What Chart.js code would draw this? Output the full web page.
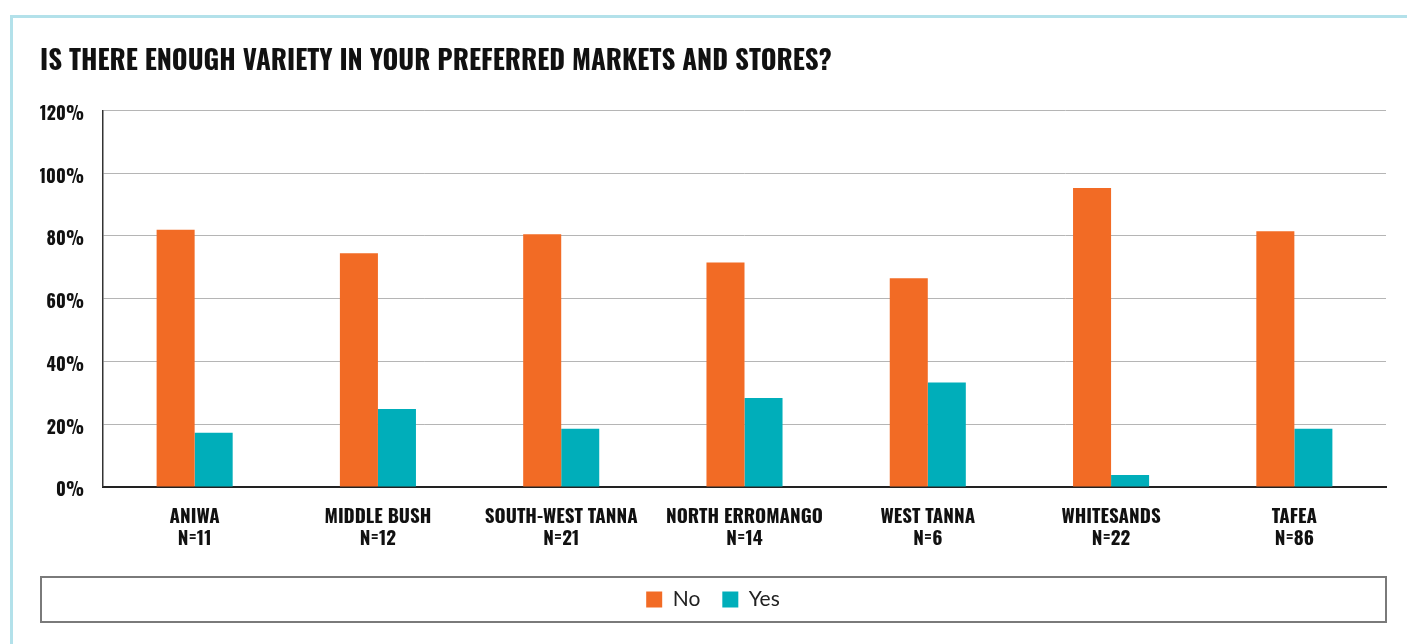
<!DOCTYPE html>
<html>
<head>
<meta charset="utf-8">
<script src="https://cdn.jsdelivr.net/npm/chart.js@4"></script>
<style>
  html, body { margin: 0; padding: 0; background: #fff; }
  #frame {
    position: absolute; left: 10px; top: 15px; width: 1420px; height: 660px;
    border-left: 3px solid #b3e1ea; border-top: 3px solid #b3e1ea;
  }
  #wrap { position: absolute; left: 0; top: 0; width: 1407px; height: 644px; }
</style>
</head>
<body>
<div id="frame"></div>
<div id="wrap"><canvas id="chart" width="1407" height="644"></canvas></div>
<script>
// ================================
// Data
// ================================

const regions = ['ANIWA', 'MIDDLE BUSH', 'SOUTH-WEST TANNA', 'NORTH ERROMANGO', 'WEST TANNA', 'WHITESANDS', 'TAFEA'];
const sampleSizes = ['N=11', 'N=12', 'N=21', 'N=14', 'N=6', 'N=22', 'N=86'];
const noValues = [82, 74.5, 80.5, 71.5, 66.5, 95.3, 81.5];
const yesValues = [17.3, 24.8, 18.5, 28.3, 33.3, 3.8, 18.5];
const yTicks = [0, 20, 40, 60, 80, 100, 120];

const condensed = "Oswald, 'Open Sans', sans-serif";

// ================================
// Box around the legend
// ================================

const legendFrame = {
  id: 'legendFrame',
  afterDraw(chart) {
    const lg = chart.legend;
    if (!lg || !lg.legendHitBoxes.length) return;
    const hb = lg.legendHitBoxes[0];
    const cy = hb.top + hb.height / 2;
    const ctx = chart.ctx;
    ctx.save();
    ctx.strokeStyle = '#7a7a7a';
    ctx.lineWidth = 2;
    ctx.strokeRect(lg.left + 1, cy - 22.5, lg.right - lg.left - 1, 45);
    ctx.restore();
  }
};

// ================================
// Chart
// ================================

new Chart(document.getElementById('chart'), {
  type: 'bar',
  data: {
    labels: regions.map((r, i) => [r, sampleSizes[i]]),
    datasets: [
      { label: 'No', data: noValues, backgroundColor: '#f26b25' },
      { label: 'Yes', data: yesValues, backgroundColor: '#00aeba' }
    ]
  },
  options: {
    responsive: false,
    animation: false,
    layout: { padding: { left: 40, right: 21, top: 0, bottom: 24 } },
    datasets: { bar: { categoryPercentage: 0.415, barPercentage: 1 } },
    scales: {
      x: {
        grid: { display: false, drawTicks: false },
        border: { color: '#222', width: 2 },
        ticks: {
          color: '#111',
          padding: 19,
          maxRotation: 0,
          autoSkip: false,
          font: { family: condensed, style: 'condensed', size: 19, weight: 'bold', lineHeight: 1.16 }
        },
        afterFit(scale) { scale.height -= 2; }
      },
      y: {
        min: 0,
        max: 120,
        afterBuildTicks(scale) { scale.ticks = yTicks.map(v => ({ value: v })); },
        grid: { color: '#b5b5b5', lineWidth: 1, drawTicks: false },
        border: { color: '#333', width: 1.5 },
        ticks: {
          color: '#111',
          padding: 19,
          labelOffset: 4,
          font: { family: condensed, style: 'condensed', size: 18, weight: 'bold' },
          callback: v => v + '%'
        },
        afterFit(scale) { scale.width = 63; }
      }
    },
    plugins: {
      title: {
        display: true,
        text: 'IS THERE ENOUGH VARIETY IN YOUR PREFERRED MARKETS AND STORES?',
        align: 'start',
        color: '#111',
        font: { family: condensed, style: 'condensed', size: 27, weight: 'bold', lineHeight: 1.2 },
        padding: { top: 46, bottom: 32 }
      },
      legend: {
        position: 'bottom',
        labels: {
          boxWidth: 16,
          boxHeight: 16,
          padding: 22,
          color: '#222',
          font: { family: "Lato, 'Open Sans', sans-serif", size: 21 }
        }
      },
      tooltip: { enabled: false }
    }
  },
  plugins: [legendFrame]
});
</script>
</body>
</html>
